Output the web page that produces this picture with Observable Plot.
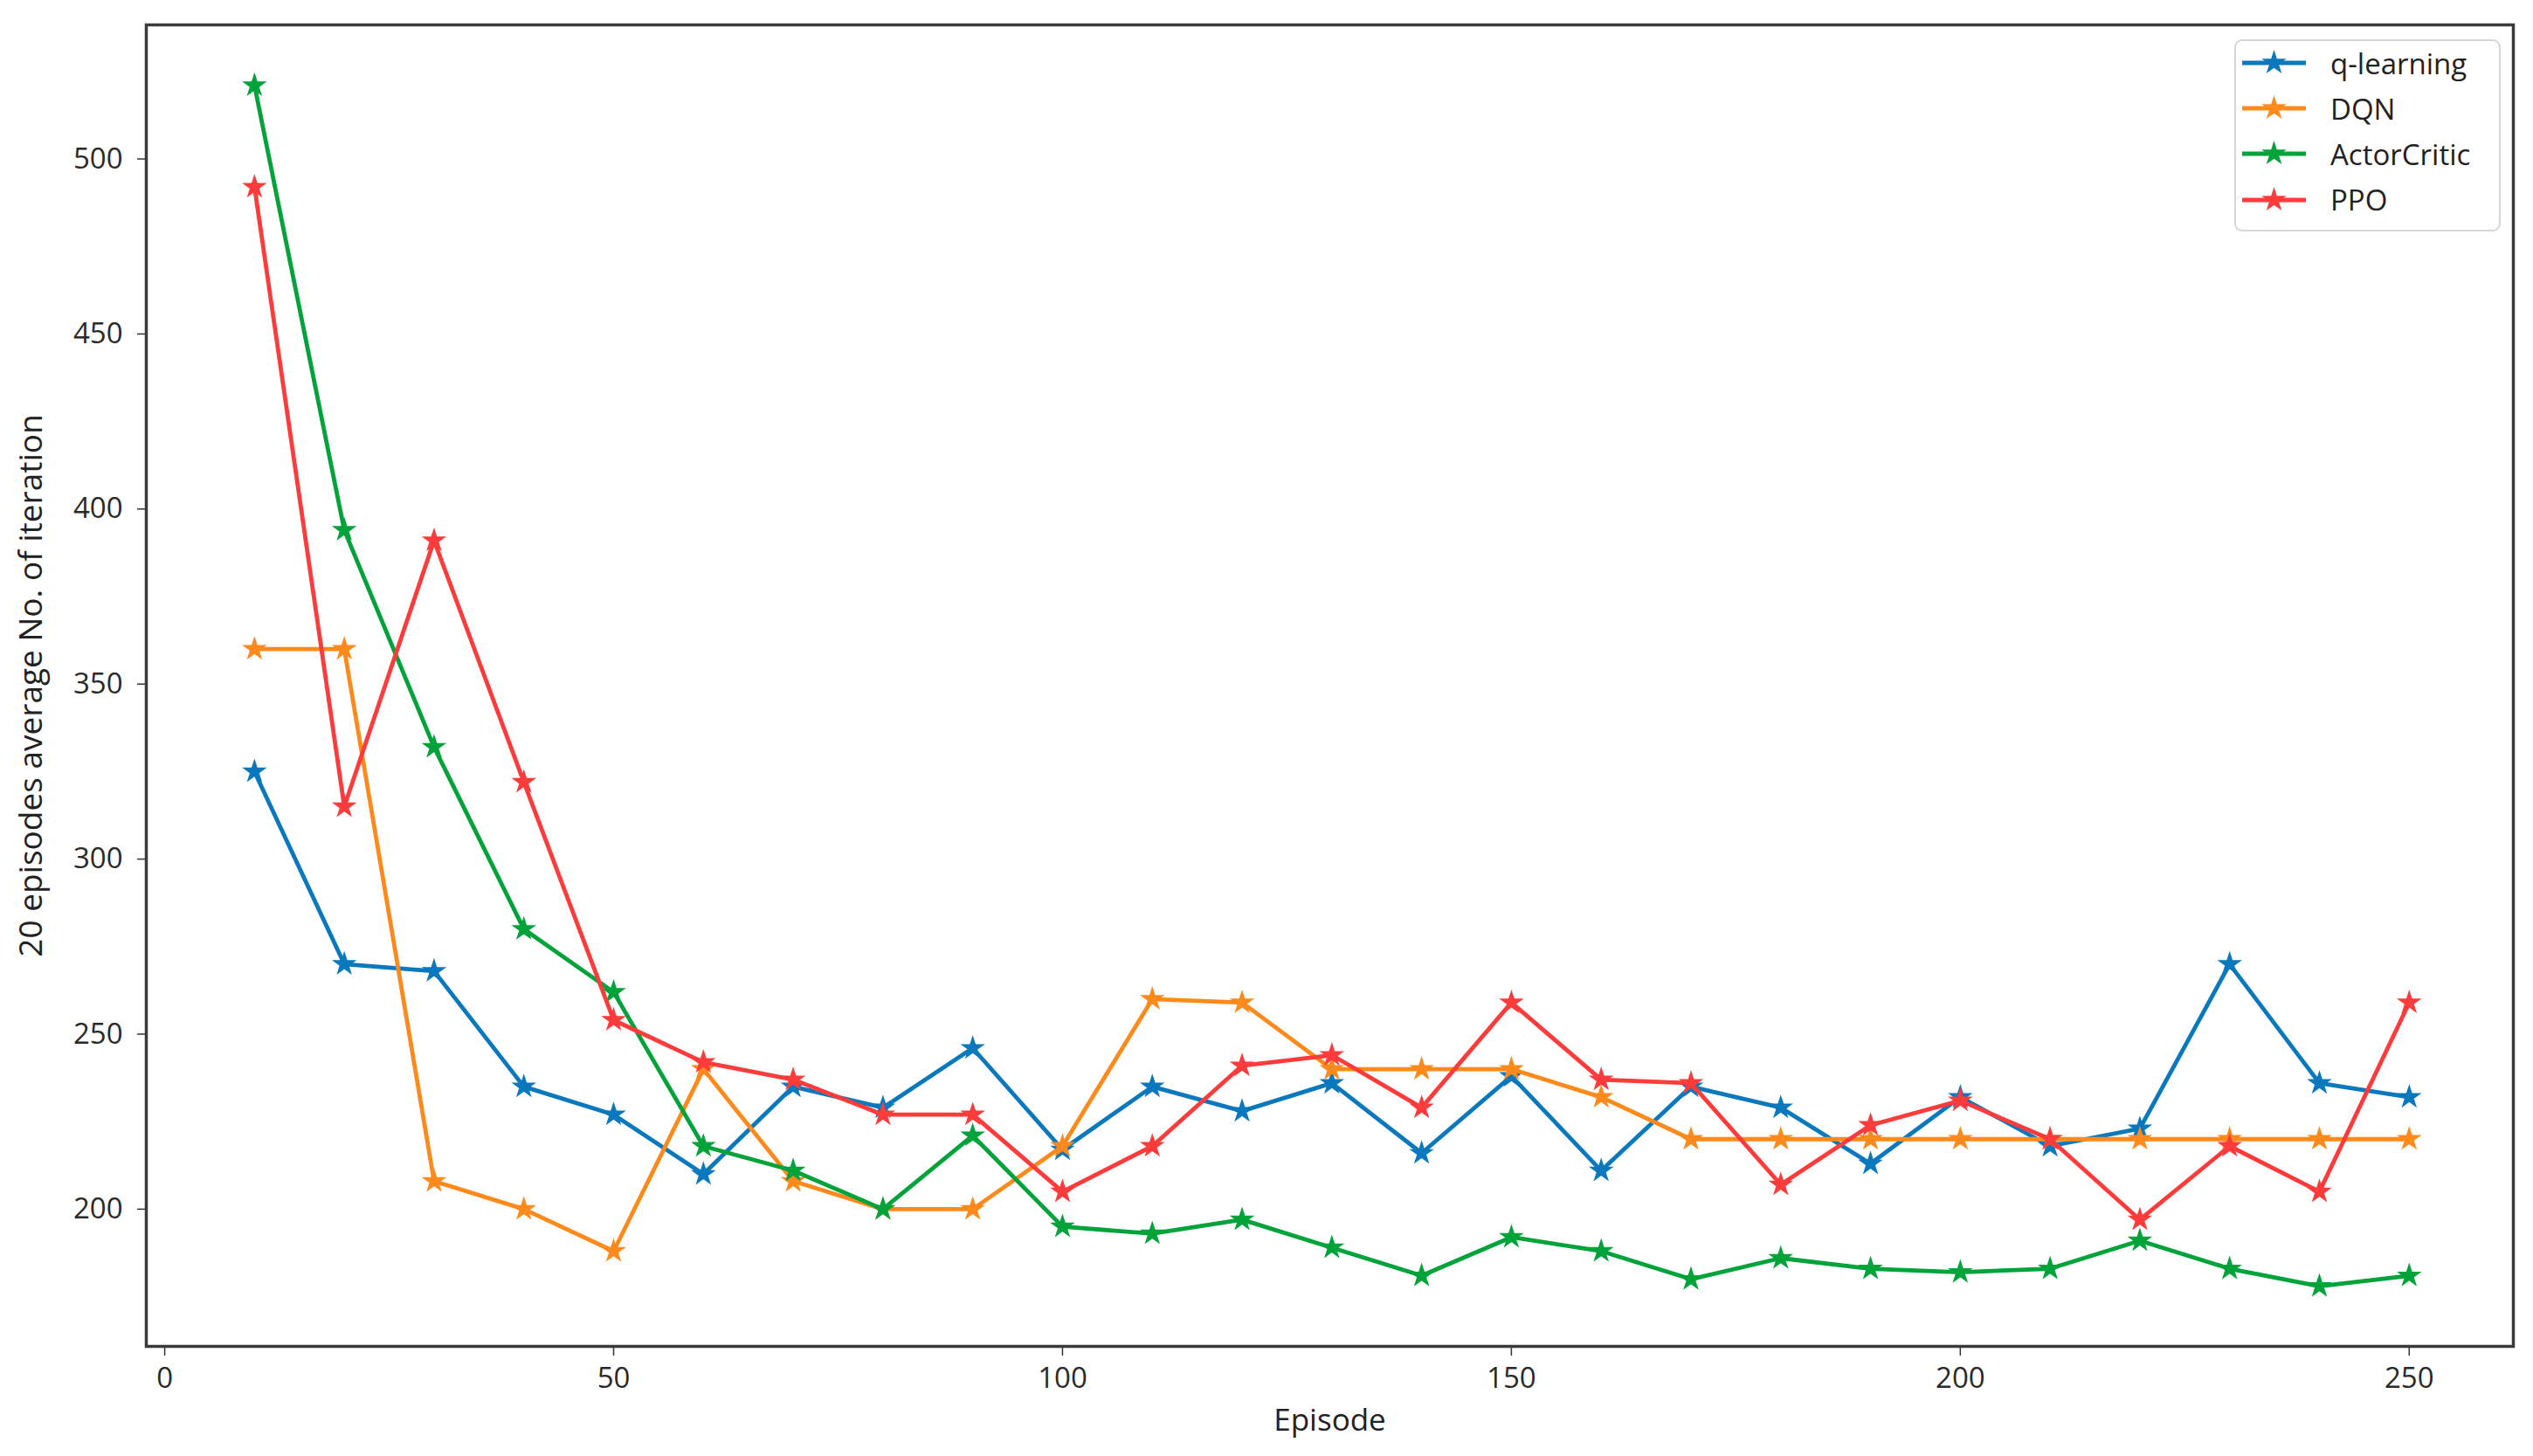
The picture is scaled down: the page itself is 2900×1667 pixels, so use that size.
<!DOCTYPE html>
<html>
<head>
<meta charset="utf-8">
<script src="https://cdn.jsdelivr.net/npm/d3@7"></script>
<script src="https://cdn.jsdelivr.net/npm/@observablehq/plot@0.6"></script>
<style>
  html, body { margin: 0; padding: 0; background: #fff; }
  #wrap { position: relative; width: 2900px; height: 1667px; }
  #legend {
    position: absolute; left: 2558px; top: 45px; width: 301px; height: 216px;
    border: 2px solid #d6d6d6; border-radius: 9px; background: rgba(255,255,255,0.85);
    font-family: "Open Sans", sans-serif; font-size: 33px; color: #222;
  }
  .row { position: absolute; left: 0; height: 52px; display: flex; align-items: center; }
  .row svg { margin-left: 7px; }
  .row span { margin-left: 28px; line-height: 1; }
</style>
</head>
<body>
<div id="wrap"></div>
<script>
// ---- data ----
const episodes = [10, 20, 30, 40, 50, 60, 70, 80, 90, 100, 110, 120, 130, 140, 150, 160, 170, 180, 190, 200, 210, 220, 230, 240, 250];
const seriesNames = ["q-learning", "DQN", "ActorCritic", "PPO"];
const qLearning   = [325, 270, 268, 235, 227, 210, 235, 229, 246, 217, 235, 228, 236, 216, 238, 211, 235, 229, 213, 232, 218, 223, 270, 236, 232];
const dqn         = [360, 360, 208, 200, 188, 240, 208, 200, 200, 218, 260, 259, 240, 240, 240, 232, 220, 220, 220, 220, 220, 220, 220, 220, 220];
const actorCritic = [521, 394, 332, 280, 262, 218, 211, 200, 221, 195, 193, 197, 189, 181, 192, 188, 180, 186, 183, 182, 183, 191, 183, 178, 181];
const ppo         = [492, 315, 391, 322, 254, 242, 237, 227, 227, 205, 218, 241, 244, 229, 259, 237, 236, 207, 224, 231, 220, 197, 218, 205, 259];
const seriesColors = ["#0a78bd", "#ff8a1c", "#00a33a", "#ff3b3b"];
const xTicks = [0, 50, 100, 150, 200, 250];
const yTicks = [200, 250, 300, 350, 400, 450, 500];
const xLabel = "Episode";
const yLabel = "20 episodes average No. of iteration";

// ---- tidy table ----
const seriesValues = [qLearning, dqn, actorCritic, ppo];
const rows = [];
seriesNames.forEach((name, si) => {
  episodes.forEach((e, i) => rows.push({ series: name, episode: e, value: seriesValues[si][i] }));
});

const marks = [];
seriesNames.forEach(name => {
  const d = rows.filter(r => r.series === name);
  marks.push(Plot.line(d, { x: "episode", y: "value", stroke: "series", strokeWidth: 4.8 }));
  marks.push(Plot.dot(d, { x: "episode", y: "value", fill: "series", stroke: "series", strokeWidth: 1.5, symbol: "star", r: 7.5 }));
});

const chart = Plot.plot({
  width: 2900,
  height: 1667,
  marginLeft: 167,
  marginRight: 23,
  marginTop: 28,
  marginBottom: 126,
  style: { fontFamily: "Open Sans, sans-serif", fontSize: "33px", color: "#2a2a2a", background: "#fff" },
  x: { domain: [-2.05, 261.6] },
  y: { domain: [160.8, 538.3] },
  color: { domain: seriesNames, range: seriesColors },
  marks: [
    Plot.axisX({ ticks: xTicks, tickSize: 11, tickPadding: 13, fontSize: 33, label: null, stroke: "#333", strokeWidth: 1.5 }),
    Plot.axisY({ ticks: yTicks, tickSize: 10, tickPadding: 17, fontSize: 33, label: null, stroke: "#333", strokeWidth: 1.5 }),
    ...marks,
    Plot.frame({ stroke: "#3a3a3a", strokeWidth: 3.5 }),
    Plot.text([xLabel], { frameAnchor: "bottom", dy: 96, text: d => d, fontSize: 35, fill: "#222", textAnchor: "middle" }),
    Plot.text([yLabel], { frameAnchor: "left", dx: -131, rotate: -90, text: d => d, fontSize: 37, fill: "#222", textAnchor: "middle", lineAnchor: "middle" })
  ]
});

const wrap = document.getElementById("wrap");
wrap.appendChild(chart);

// ---- legend (overlay inside the axes, upper right) ----
const legend = document.createElement("div");
legend.id = "legend";
const starPath = d3.symbol(d3.symbolStar, Math.PI * 7.5 * 7.5)();
seriesNames.forEach((name, i) => {
  const row = document.createElement("div");
  row.className = "row";
  row.style.top = (i * 52.2 - 1) + "px";
  const c = seriesColors[i];
  row.innerHTML =
    `<svg width="73" height="30" viewBox="0 0 73 30">
       <line x1="0" y1="15" x2="73" y2="15" stroke="${c}" stroke-width="4.8"/>
       <path d="${starPath}" transform="translate(36.5,15)" fill="${c}" stroke="${c}" stroke-width="1.5"/>
     </svg><span>${name}</span>`;
  legend.appendChild(row);
});
wrap.appendChild(legend);
</script>
</body>
</html>
